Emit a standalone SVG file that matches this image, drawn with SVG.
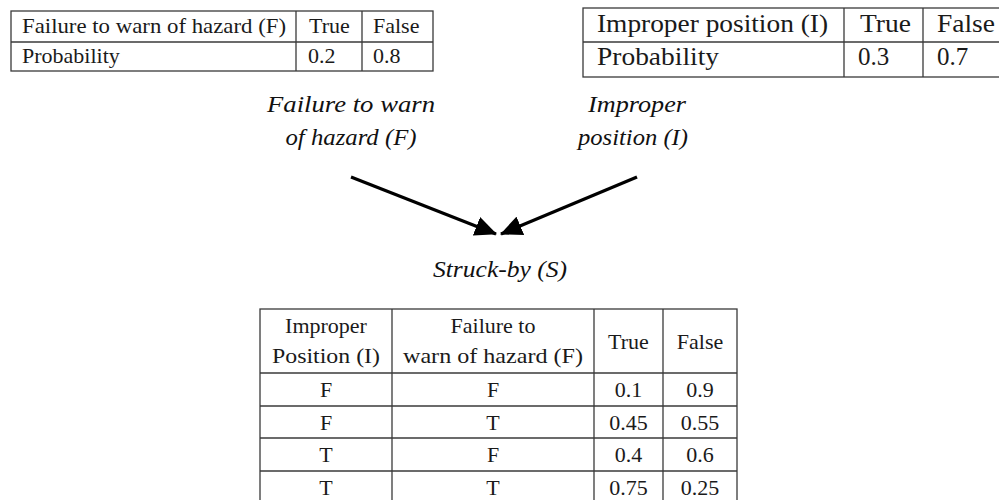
<svg xmlns="http://www.w3.org/2000/svg" width="999" height="500" viewBox="0 0 999 500">
<style>
.t{font-family:"Liberation Serif","Times New Roman",serif;fill:#1a1a1a}
.s22{font-size:22px}
.s25{font-size:25px}
.it{font-family:"Liberation Serif","Times New Roman",serif;font-style:italic;font-size:23px;fill:#111}
.ln{stroke:#3a3a3a;stroke-width:1.3;fill:none}
.c{text-anchor:middle}
.edge{stroke:#000;stroke-width:3.2;fill:none}
</style>
<defs>
<marker id="ah" viewBox="0 0 22 20" refX="21" refY="10" markerWidth="22" markerHeight="20" markerUnits="userSpaceOnUse" orient="auto">
<path d="M0,0 L22,10 L0,20 Z" fill="#000"/>
</marker>
</defs>
<rect width="999" height="500" fill="#fff"/>

<g id="table-F">
<rect class="ln" x="11" y="11" width="422" height="60"/>
<line class="ln" x1="11" y1="42" x2="433" y2="42"/>
<line class="ln" x1="296" y1="11" x2="296" y2="71"/>
<line class="ln" x1="362" y1="11" x2="362" y2="71"/>
<text class="t s22" x="22" y="33" textLength="264" lengthAdjust="spacingAndGlyphs">Failure to warn of hazard (F)</text>
<text class="t s22" x="309" y="33">True</text>
<text class="t s22" x="373" y="33">False</text>
<text class="t s22" x="22" y="63">Probability</text>
<text class="t s22" x="308" y="63">0.2</text>
<text class="t s22" x="373" y="63">0.8</text>
</g>

<g id="table-I">
<rect class="ln" x="583" y="8" width="420" height="69"/>
<line class="ln" x1="583" y1="42" x2="1003" y2="42"/>
<line class="ln" x1="844" y1="8" x2="844" y2="77"/>
<line class="ln" x1="923" y1="8" x2="923" y2="77"/>
<text class="t s25" x="597" y="32" textLength="231" lengthAdjust="spacingAndGlyphs">Improper position (I)</text>
<text class="t s25" x="860" y="32" textLength="51" lengthAdjust="spacingAndGlyphs">True</text>
<text class="t s25" x="937" y="32" textLength="58" lengthAdjust="spacingAndGlyphs">False</text>
<text class="t s25" x="597" y="65" textLength="122" lengthAdjust="spacingAndGlyphs">Probability</text>
<text class="t s25" x="858" y="65">0.3</text>
<text class="t s25" x="937" y="65">0.7</text>
</g>

<g id="node-F">
<text class="it c" x="351" y="112" textLength="168" lengthAdjust="spacingAndGlyphs">Failure to warn</text>
<text class="it c" x="351" y="145" textLength="131" lengthAdjust="spacingAndGlyphs">of hazard (F)</text>
</g>
<g id="node-I">
<text class="it c" x="637" y="112" textLength="98" lengthAdjust="spacingAndGlyphs">Improper</text>
<text class="it c" x="633" y="145" textLength="110" lengthAdjust="spacingAndGlyphs">position (I)</text>
</g>
<g id="node-S">
<text class="it c" x="500" y="277" textLength="134" lengthAdjust="spacingAndGlyphs">Struck-by (S)</text>
</g>

<g id="connectors">
<line class="edge" x1="351" y1="177" x2="496" y2="234" marker-end="url(#ah)"/>
<line class="edge" x1="637" y1="177" x2="501" y2="234" marker-end="url(#ah)"/>
</g>

<g id="table-S">
<rect class="ln" x="260" y="309" width="477" height="200"/>
<line class="ln" x1="260" y1="373" x2="737" y2="373"/>
<line class="ln" x1="260" y1="406" x2="737" y2="406"/>
<line class="ln" x1="260" y1="438" x2="737" y2="438"/>
<line class="ln" x1="260" y1="471" x2="737" y2="471"/>
<line class="ln" x1="392" y1="309" x2="392" y2="509"/>
<line class="ln" x1="594" y1="309" x2="594" y2="509"/>
<line class="ln" x1="663" y1="309" x2="663" y2="509"/>
<text class="t s22 c" x="326" y="333">Improper</text>
<text class="t s22 c" x="326" y="363" textLength="108" lengthAdjust="spacingAndGlyphs">Position (I)</text>
<text class="t s22 c" x="493" y="333">Failure to</text>
<text class="t s22 c" x="493" y="363" textLength="180" lengthAdjust="spacingAndGlyphs">warn of hazard (F)</text>
<text class="t s22 c" x="628.5" y="349">True</text>
<text class="t s22 c" x="700" y="349">False</text>
<text class="t s22 c" x="326" y="397">F</text><text class="t s22 c" x="493" y="397">F</text><text class="t s22 c" x="628.5" y="397">0.1</text><text class="t s22 c" x="700" y="397">0.9</text>
<text class="t s22 c" x="326" y="430">F</text><text class="t s22 c" x="493" y="430">T</text><text class="t s22 c" x="628.5" y="430">0.45</text><text class="t s22 c" x="700" y="430">0.55</text>
<text class="t s22 c" x="326" y="462">T</text><text class="t s22 c" x="493" y="462">F</text><text class="t s22 c" x="628.5" y="462">0.4</text><text class="t s22 c" x="700" y="462">0.6</text>
<text class="t s22 c" x="326" y="495">T</text><text class="t s22 c" x="493" y="495">T</text><text class="t s22 c" x="628.5" y="495">0.75</text><text class="t s22 c" x="700" y="495">0.25</text>
</g>
</svg>
